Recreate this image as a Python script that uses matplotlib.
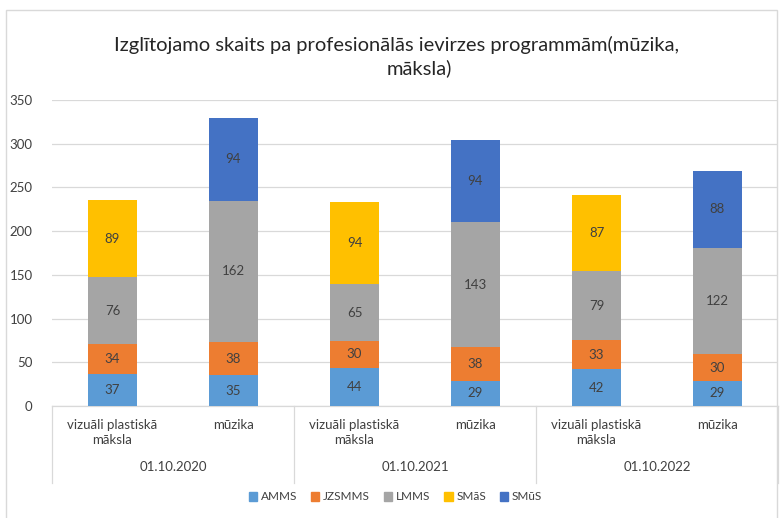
import matplotlib
matplotlib.use("Agg")
import matplotlib.pyplot as plt
import matplotlib.transforms as mtransforms
from matplotlib.patches import Rectangle
from matplotlib.lines import Line2D
import numpy as np

plt.rcParams['font.family'] = ['Lato', 'DejaVu Sans']

title_lines = ["Izglītojamo skaits pa profesionālās ievirzes programmām(mūzika,", "māksla)"]
categories = ["vizuāli plastiskā\nmāksla", "mūzika", "vizuāli plastiskā\nmāksla", "mūzika",
              "vizuāli plastiskā\nmāksla", "mūzika"]
groups = ["01.10.2020", "01.10.2021", "01.10.2022"]
series_names = ["AMMS", "JZSMMS", "LMMS", "SMāS", "SMūS"]
AMMS = [37, 35, 44, 29, 42, 29]
JZSMMS = [34, 38, 30, 38, 33, 30]
LMMS = [76, 162, 65, 143, 79, 122]
SMaS = [89, 0, 94, 0, 87, 0]
SMuS = [0, 94, 0, 94, 0, 88]
colors = ["#5B9BD5", "#ED7D31", "#A5A5A5", "#FFC000", "#4472C4"]
yticks = [0, 50, 100, 150, 200, 250, 300, 350]

W, H = 781, 518
fig = plt.figure(figsize=(W / 100, H / 100), dpi=100)
ax = fig.add_axes([52 / W, (H - 406) / H, (778 - 52) / W, 306 / H])

x = np.arange(len(categories))
bottom = np.zeros(len(categories))
txt = "#404040"
for name, vals, c in zip(series_names, [AMMS, JZSMMS, LMMS, SMaS, SMuS], colors):
    vals = np.array(vals, dtype=float)
    ax.bar(x, vals, 0.4, bottom=bottom, color=c, label=name, zorder=3)
    for xi, b, v in zip(x, bottom, vals):
        if v > 0:
            ax.text(xi, b + v / 2, f"{int(v)}", ha="center", va="center",
                    fontsize=9.5, color=txt, zorder=4)
    bottom += vals

ax.set_xlim(-0.5, len(categories) - 0.5)
ax.set_ylim(0, 350)
ax.set_yticks(yticks)
ax.tick_params(axis="y", length=0, labelsize=9.5, labelcolor=txt, pad=14)
ax.set_xticks([])
ax.grid(axis="y", color="#D9D9D9", linewidth=0.9, zorder=0)
for s in ["top", "right", "left"]:
    ax.spines[s].set_visible(False)
ax.spines["bottom"].set_color("#D9D9D9")
ax.spines["bottom"].set_linewidth(0.9)

trans = mtransforms.blended_transform_factory(ax.transData, ax.transAxes)
for xi, lab in zip(x, categories):
    ax.text(xi, -0.042, lab, transform=trans, ha="center", va="top",
            fontsize=9.5, color=txt, linespacing=1.35)
for gi, g in enumerate(groups):
    ax.text(2 * gi + 0.5, -0.2, g, transform=trans, ha="center", va="center",
            fontsize=9.5, color=txt)
for b in [-0.5, 1.5, 3.5, 5.5]:
    ax.add_line(Line2D([b, b], [0, -0.252], transform=trans, color="#D9D9D9",
                       linewidth=0.9, clip_on=False))

fig.text(397 / W, (H - 45) / H, title_lines[0], ha="center", va="center", fontsize=14.5,
         color="#262626")
fig.text(419 / W, (H - 68) / H, title_lines[1], ha="center", va="center", fontsize=14.5,
         color="#262626")

handles = [Rectangle((0, 0), 1, 1, color=c) for c in colors]
fig.legend(handles, series_names, loc="center", bbox_to_anchor=(0.5 + 5 / W, (H - 497) / H),
           ncol=5, frameon=False, fontsize=8.5, handlelength=0.7, handleheight=0.7,
           handletextpad=0.3, columnspacing=1.2, labelcolor=txt)

fig.add_artist(Rectangle((6 / W, -0.01), (777 - 6) / W, (H - 10) / H + 0.01,
                         transform=fig.transFigure, fill=False, edgecolor="#D9D9D9",
                         linewidth=1))

fig.savefig("out.png", dpi=100)
